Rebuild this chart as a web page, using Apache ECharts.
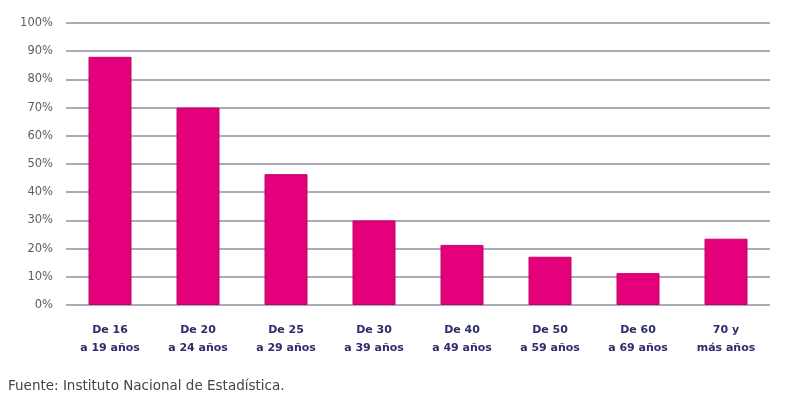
<!DOCTYPE html>
<html>
<head>
<meta charset="utf-8">
<script src="https://cdn.jsdelivr.net/npm/echarts@6/dist/echarts.min.js"></script>
<style>
  html, body { margin: 0; padding: 0; background: #ffffff; }
  #chart { width: 785px; height: 400px; }
</style>
</head>
<body>
<div id="chart"></div>
<script>
// Age groups on the x axis
const categories = [
  'De 16\na 19 años', 'De 20\na 24 años', 'De 25\na 29 años', 'De 30\na 39 años',
  'De 40\na 49 años', 'De 50\na 59 años', 'De 60\na 69 años', '70 y\nmás años'
];
// Percentage per age group
const values = [88, 70, 46.4, 30, 21.3, 17.1, 11.3, 23.5];
// Y-axis range and step (%)
const yMin = 0;
const yMax = 100;
const yStep = 10;
const sourceText = 'Fuente: Instituto Nacional de Estadística.';

const chart = echarts.init(document.getElementById('chart'), null, { renderer: 'canvas' });
chart.setOption({
  animation: false,
  backgroundColor: '#ffffff',
  grid: { left: 66, right: 15, top: 23, bottom: 95, containLabel: false },
  xAxis: {
    type: 'category',
    data: categories,
    axisLine: { show: false },
    axisTick: { show: false },
    axisLabel: {
      color: '#2c2c6e',
      fontFamily: 'DejaVu Sans',
      fontWeight: 'bold',
      fontSize: 11,
      lineHeight: 18,
      margin: 16
    }
  },
  yAxis: {
    type: 'value',
    min: yMin,
    max: yMax,
    interval: yStep,
    axisLine: { show: false },
    axisTick: { show: false },
    axisLabel: {
      formatter: '{value}%',
      color: '#5e5e5e',
      fontFamily: 'DejaVu Sans',
      fontSize: 11.5,
      margin: 13
    },
    splitLine: { lineStyle: { color: '#aaaab8', width: 2 } }
  },
  series: [{
    type: 'bar',
    data: values,
    barWidth: 43,
    itemStyle: { color: '#e3007a', borderColor: '#c8006a', borderWidth: 1 }
  }],
  graphic: [{
    type: 'text',
    left: 8,
    top: 379,
    style: {
      text: sourceText,
      fill: '#444444',
      font: '13.5px "DejaVu Sans"'
    }
  }]
});
</script>
</body>
</html>
